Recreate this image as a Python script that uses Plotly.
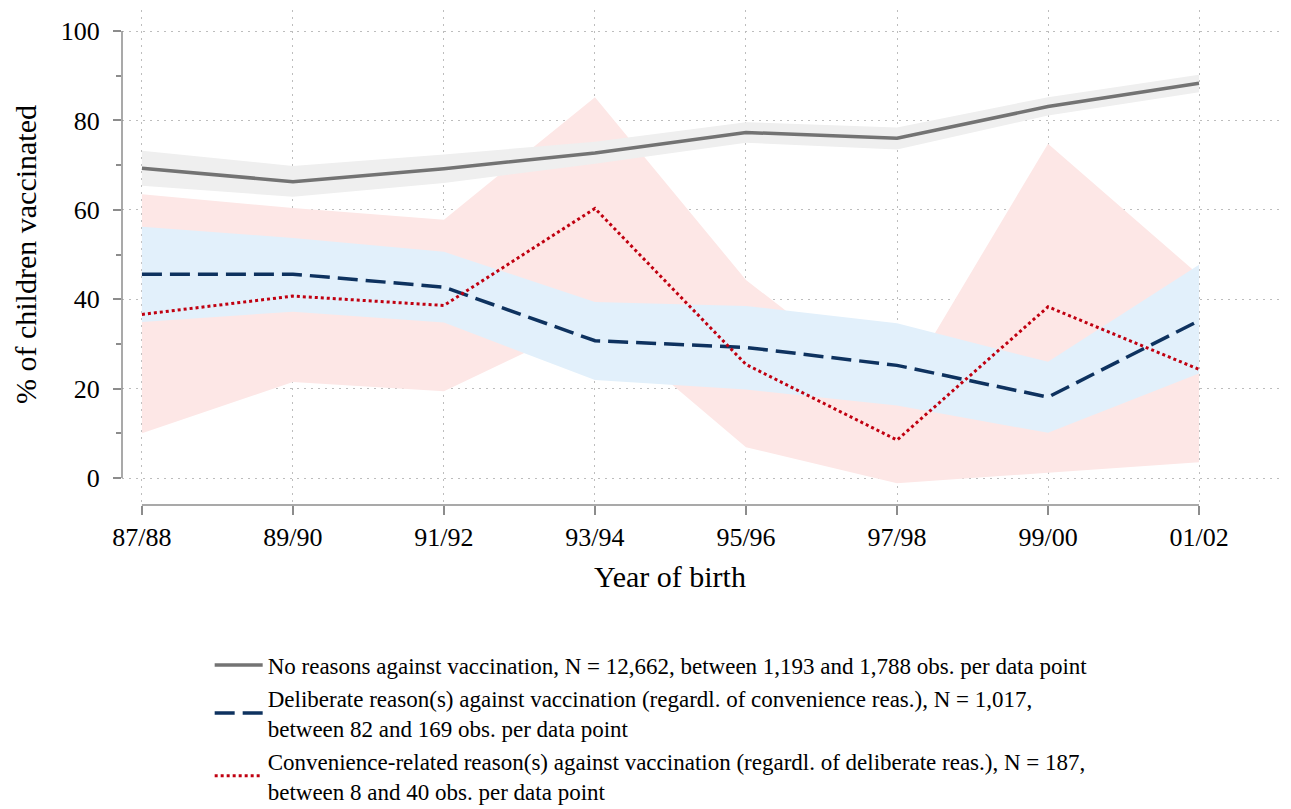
import plotly.graph_objects as go

years = ["87/88", "89/90", "91/92", "93/94", "95/96", "97/98", "99/00", "01/02"]

none_val = [69.3, 66.3, 69.2, 72.7, 77.3, 76.0, 83.1, 88.3]
none_hi = [73.2, 69.8, 72.4, 75.2, 79.6, 78.4, 85.2, 90.2]
none_lo = [65.4, 62.9, 66.0, 70.3, 75.0, 73.5, 81.1, 86.3]

delib_val = [45.6, 45.6, 42.7, 30.7, 29.2, 25.2, 18.1, 35.2]
delib_hi = [56.2, 53.7, 50.6, 39.4, 38.5, 34.6, 26.0, 47.7]
delib_lo = [34.9, 37.2, 34.8, 21.9, 19.8, 16.2, 10.1, 23.4]

conv_val = [36.6, 40.7, 38.6, 60.3, 25.4, 8.5, 38.3, 24.3]
conv_hi = [63.5, 60.4, 57.8, 85.2, 44.3, 18.2, 74.8, 45.4]
conv_lo = [10.0, 21.5, 19.4, 35.5, 6.9, -1.2, 1.2, 3.5]

labels = [
    "No reasons against vaccination, N = 12,662, between 1,193 and 1,788 obs. per data point",
    "Deliberate reason(s) against vaccination (regardl. of convenience reas.), N = 1,017,<br>between 82 and 169 obs. per data point",
    "Convenience-related reason(s) against vaccination (regardl. of deliberate reas.), N = 187,<br>between 8 and 40 obs. per data point",
]

FONT = "Liberation Serif"
fig = go.Figure()

def band(lo, hi, color):
    fig.add_trace(go.Scatter(x=years, y=lo, mode="lines", line=dict(width=0),
                             showlegend=False, hoverinfo="skip"))
    fig.add_trace(go.Scatter(x=years, y=hi, mode="lines", line=dict(width=0),
                             fill="tonexty", fillcolor=color,
                             showlegend=False, hoverinfo="skip"))

band(conv_lo, conv_hi, "#fde7e6")
band(delib_lo, delib_hi, "#e2f0fb")
band(none_lo, none_hi, "#efefef")

fig.add_trace(go.Scatter(x=years, y=none_val, mode="lines", name=labels[0],
                         line=dict(color="#737373", width=3.5),
                         legendgroup="a"))
fig.add_trace(go.Scatter(x=years, y=delib_val, mode="lines", name=labels[1],
                         line=dict(color="#0e325f", width=3.5, dash="20px,8px"),
                         legendgroup="b"))
fig.add_trace(go.Scatter(x=years, y=conv_val, mode="lines", name=labels[2],
                         line=dict(color="#c00010", width=3, dash="3px,3px"),
                         legendgroup="c"))

fig.update_layout(
    width=1283, height=801,
    margin=dict(l=114, r=0, t=2, b=304, autoexpand=False),
    plot_bgcolor="white", paper_bgcolor="white",
    font=dict(family=FONT, size=24, color="black"),
    showlegend=True,
    legend=dict(x=0.075, y=-0.28, xanchor="left", yanchor="top",
                font=dict(family=FONT, size=23, color="black"),
                traceorder="grouped", tracegroupgap=0,
                itemwidth=48, bgcolor="rgba(0,0,0,0)"),
    xaxis=dict(type="category", range=[-0.132, 7.609],
               showgrid=True, gridcolor="#bdbdbd", griddash="2px,5px", gridwidth=1,
               showline=False, zeroline=False,
               ticks="outside", ticklen=9, tickcolor="#8c8c8c", tickwidth=1.5,
               ticklabelstandoff=0,
               tickfont=dict(family=FONT, size=26, color="black")),
    yaxis=dict(range=[-6.04, 104.7], tickvals=[0, 20, 40, 60, 80, 100],
               showgrid=True, gridcolor="#bdbdbd", griddash="2px,5px", gridwidth=1,
               showline=False, zeroline=False,
               ticks="outside", ticklen=8, tickcolor="#8c8c8c", tickwidth=1.5,
               ticklabelstandoff=8,
               minor=dict(tickvals=[10, 30, 50, 70, 90], ticks="outside", ticklen=5,
                          tickcolor="#8c8c8c", showgrid=False),
               tickfont=dict(family=FONT, size=26, color="black")),
    annotations=[
        dict(text="Year of birth", xref="paper", yref="paper",
             x=0.469, y=-0.145, xanchor="center", yanchor="middle",
             showarrow=False, font=dict(family=FONT, size=30, color="black")),
        dict(text="% of children vaccinated", xref="paper", yref="paper",
             x=-0.083, y=0.507, xanchor="center", yanchor="middle", textangle=-90,
             showarrow=False, font=dict(family=FONT, size=30, color="black")),
    ],
)

fig.add_shape(type="line", xref="paper", yref="y", x0=0, x1=0, y0=0, y1=100,
              line=dict(color="#8c8c8c", width=1.5))
fig.add_shape(type="line", xref="x", yref="paper", x0=years[0], x1=years[-1], y0=0, y1=0,
              line=dict(color="#8c8c8c", width=1.5))

fig.write_html("out.html")
